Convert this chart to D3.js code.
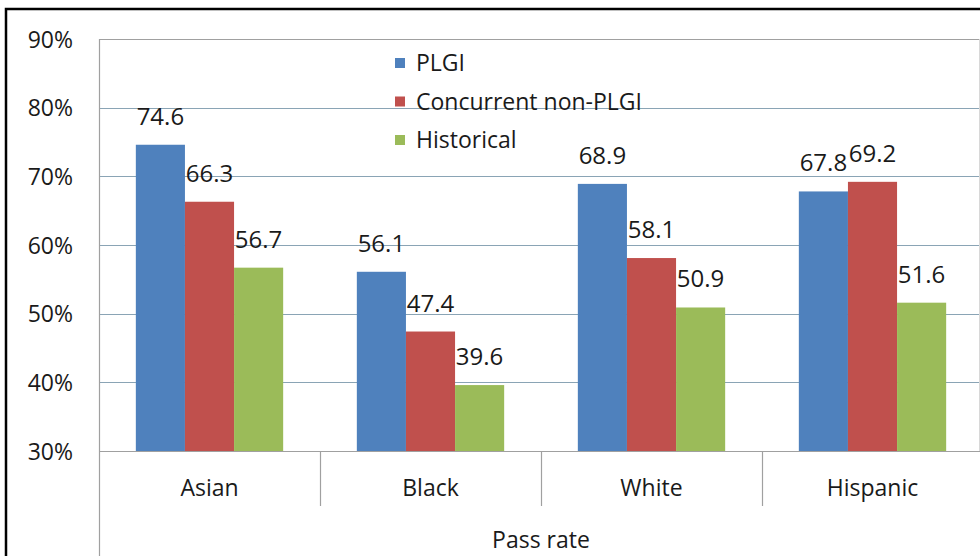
<!DOCTYPE html>
<html><head><meta charset="utf-8">
<script src="https://cdnjs.cloudflare.com/ajax/libs/d3/7.8.5/d3.min.js"></script>
<style>body{margin:0;background:#fff}svg{display:block}text{font-family:"Open Sans",sans-serif;fill:#1a1a1a}</style>
</head><body><svg id="c" width="980" height="556"></svg>
<script>
const categories = ["Asian", "Black", "White", "Hispanic"];
const seriesNames = ["PLGI", "Concurrent non-PLGI", "Historical"];
const plgi = [74.6, 56.1, 68.9, 67.8];
const concurrent = [66.3, 47.4, 58.1, 69.2];
const historical = [56.7, 39.6, 50.9, 51.6];
const yTicks = [30, 40, 50, 60, 70, 80, 90];
const axisTitle = "Pass rate";
const colors = ["#4F81BD", "#C0504D", "#9BBB59"];

const series = [plgi, concurrent, historical];
const svg = d3.select("#c");
const pLeft = 99, pRight = 983, pTop = 39, pBottom = 451;

const x = d3.scaleBand().domain(categories).range([pLeft, pRight]).paddingInner(0).paddingOuter(0);
const inner = d3.scaleBand().domain(d3.range(3)).range([0, x.bandwidth()]).paddingOuter(0.75).paddingInner(0);
const y = d3.scaleLinear().domain([30, 90]).range([pBottom, pTop]);

// outer frame
svg.append("rect").attr("x", 6).attr("y", 9).attr("width", 1000).attr("height", 600)
  .attr("fill", "none").attr("stroke", "#000").attr("stroke-width", 2.5);

// gridlines
svg.append("g").selectAll("line").data(yTicks.filter(t => t > 30 && t < 90)).join("line")
  .attr("x1", pLeft).attr("x2", 980).attr("y1", d => Math.round(y(d)) + 0.5).attr("y2", d => Math.round(y(d)) + 0.5)
  .attr("stroke", "#8aa4b5").attr("stroke-width", 1.2);
svg.append("line").attr("x1", pLeft).attr("x2", 980).attr("y1", Math.round(y(90)) + 0.5).attr("y2", Math.round(y(90)) + 0.5)
  .attr("stroke", "#a0a0a0").attr("stroke-width", 1.2);
svg.append("line").attr("x1", 979.5).attr("x2", 979.5).attr("y1", y(90)).attr("y2", y(30))
  .attr("stroke", "#d8d8d8").attr("stroke-width", 1);

// y axis labels
const yAxis = d3.axisLeft(y).tickValues(yTicks).tickFormat(d => d + "%").tickSize(0).tickPadding(0);
const ga = svg.append("g").attr("transform", `translate(73,0)`).call(yAxis);
ga.select(".domain").remove();
ga.selectAll("text").style("font-size", "23px").style("font-family", "Open Sans").attr("fill", "#1a1a1a").attr("dy", "0.35em");

// bars
series.forEach((vals, si) => {
  svg.append("g").selectAll("rect").data(vals).join("rect")
    .attr("x", (d, i) => x(categories[i]) + inner(si))
    .attr("y", d => y(d))
    .attr("width", inner.bandwidth())
    .attr("height", d => y(30) - y(d))
    .attr("fill", colors[si]);
});

// value labels
series.forEach((vals, si) => {
  svg.append("g").selectAll("text").data(vals).join("text")
    .attr("x", (d, i) => x(categories[i]) + inner(si) + inner.bandwidth() / 2)
    .attr("y", d => y(d) - 20)
    .attr("text-anchor", "middle")
    .style("font-size", "24px")
    .text(d => d.toFixed(1));
});

// x axis baseline and multilevel lines
svg.append("line").attr("x1", pLeft).attr("x2", 980).attr("y1", pBottom + 0.5).attr("y2", pBottom + 0.5)
  .attr("stroke", "#a0a0a0").attr("stroke-width", 1.2);
svg.append("line").attr("x1", pLeft + 0.5).attr("x2", pLeft + 0.5).attr("y1", pTop).attr("y2", 556)
  .attr("stroke", "#a0a0a0").attr("stroke-width", 1.2);
svg.append("g").selectAll("line").data(categories.slice(1)).join("line")
  .attr("x1", d => Math.round(x(d)) + 0.5).attr("x2", d => Math.round(x(d)) + 0.5)
  .attr("y1", pBottom).attr("y2", 506)
  .attr("stroke", "#a0a0a0").attr("stroke-width", 1.2);

svg.append("g").selectAll("text").data(categories).join("text")
  .attr("x", d => x(d) + x.bandwidth() / 2).attr("y", 496)
  .attr("text-anchor", "middle").style("font-size", "23px").text(d => d);

svg.append("text").attr("x", (pLeft + pRight) / 2).attr("y", 548)
  .attr("text-anchor", "middle").style("font-size", "23px").text(axisTitle);

// legend
const lg = svg.append("g");
seriesNames.forEach((n, i) => {
  const cy = 63 + i * 38.5;
  lg.append("rect").attr("x", 395).attr("y", cy - 5).attr("width", 10).attr("height", 10).attr("fill", colors[i]);
  lg.append("text").attr("x", 416).attr("y", cy).attr("dy", "0.35em").style("font-size", "23px").text(n);
});
</script></body></html>
